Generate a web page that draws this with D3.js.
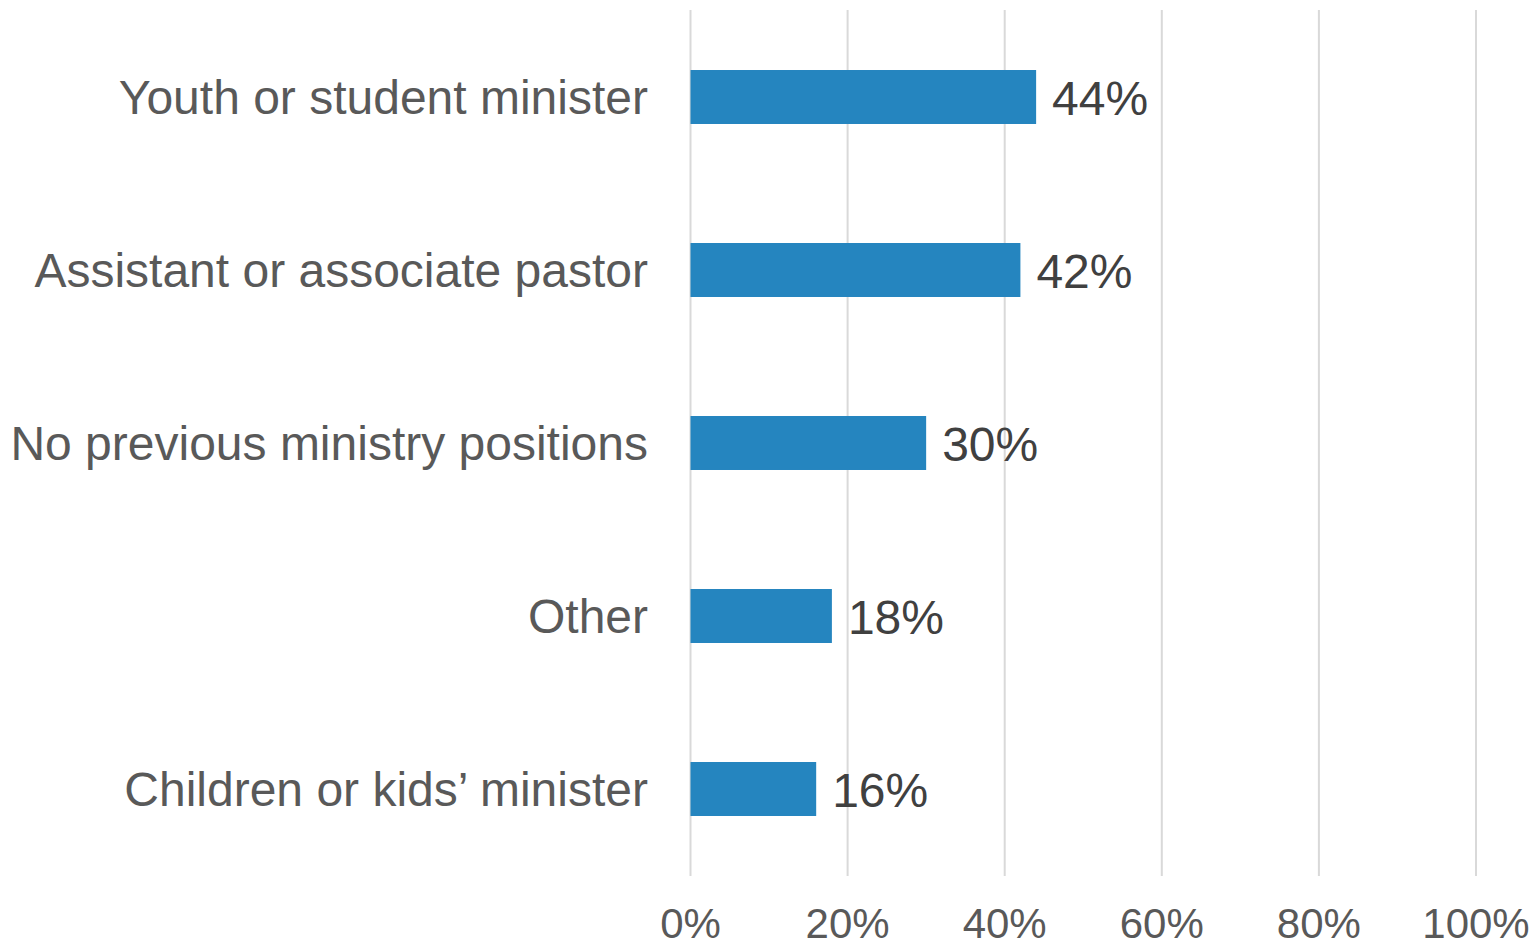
<!DOCTYPE html>
<html>
<head>
<meta charset="utf-8">
<script src="https://cdn.jsdelivr.net/npm/d3@7"></script>
<style>
  body { margin: 0; background: #fff; }
  svg { display: block; font-family: "Liberation Sans", Arial, sans-serif; }
</style>
</head>
<body>
<svg id="chart" width="1532" height="944"></svg>
<script>
// data
const categories = [
  "Youth or student minister",
  "Assistant or associate pastor",
  "No previous ministry positions",
  "Other",
  "Children or kids\u2019 minister"
];
const values = [44, 42, 30, 18, 16];
const ticks = [0, 20, 40, 60, 80, 100];

const svg = d3.select("#chart");
const plotLeft = 690.5, plotRight = 1476, plotTop = 10, plotBottom = 876;

const x = d3.scaleLinear().domain([0, 100]).range([plotLeft, plotRight]);
const y = d3.scaleBand().domain(categories).range([10.5, 875.5]).paddingInner(0.688).paddingOuter(0.344);

// gridlines
svg.append("g").selectAll("line").data(ticks).join("line")
  .attr("x1", d => x(d)).attr("x2", d => x(d))
  .attr("y1", plotTop).attr("y2", plotBottom)
  .attr("stroke", "#d9d9d9").attr("stroke-width", 2);

// tick labels
svg.append("g").selectAll("text").data(ticks).join("text")
  .attr("x", d => x(d)).attr("y", 938)
  .attr("text-anchor", "middle")
  .attr("font-size", 42).attr("fill", "#595959")
  .text(d => d + "%");

// bars
svg.append("g").selectAll("rect").data(values).join("rect")
  .attr("x", x(0))
  .attr("y", (d, i) => y(categories[i]))
  .attr("width", d => x(d) - x(0))
  .attr("height", y.bandwidth())
  .attr("fill", "#2585bf");

// value labels
svg.append("g").selectAll("text").data(values).join("text")
  .attr("x", d => x(d) + 16)
  .attr("y", (d, i) => y(categories[i]) + y.bandwidth() / 2 + 18)
  .attr("font-size", 48).attr("fill", "#404040")
  .text(d => d + "%");

// category labels
svg.append("g").selectAll("text").data(categories).join("text")
  .attr("x", 648)
  .attr("y", d => y(d) + y.bandwidth() / 2 + 17)
  .attr("text-anchor", "end")
  .attr("font-size", 48).attr("fill", "#595959")
  .text(d => d);
</script>
</body>
</html>
